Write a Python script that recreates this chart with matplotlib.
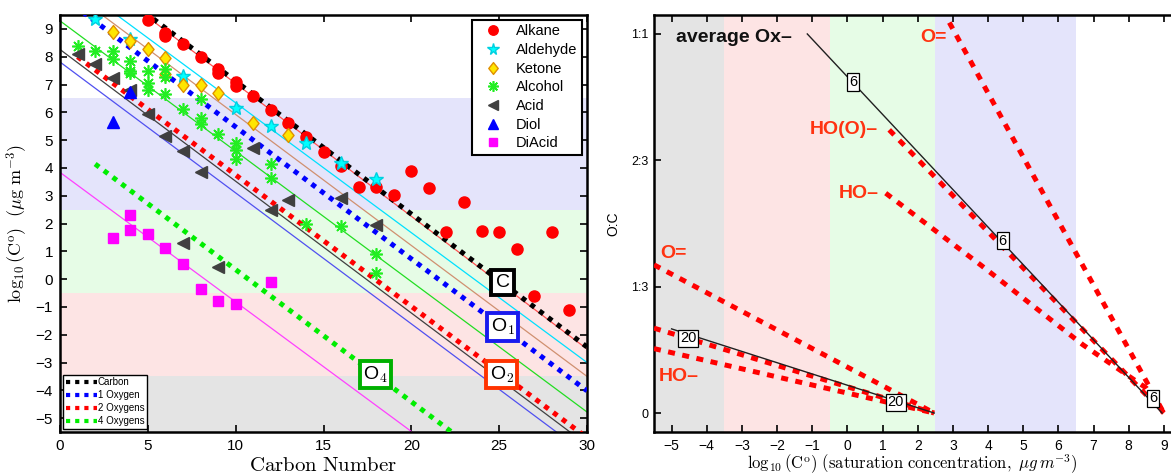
import matplotlib
matplotlib.use('Agg')
import matplotlib.pyplot as plt
import numpy as np
from matplotlib.path import Path

plt.rcParams['font.family'] = ['Liberation Sans', 'DejaVu Sans']
plt.rcParams['mathtext.fontset'] = 'cm'

# ---------------- Left panel data ----------------
alkane_c = [5, 6, 6, 7, 8, 9, 9, 10, 10, 11, 12, 13, 14, 15, 16, 17, 18, 19, 20, 21, 22, 23, 24, 25, 26, 27, 28, 29]
alkane_v = [9.33, 8.86, 8.75, 8.44, 8.0, 7.55, 7.42, 7.08, 6.94, 6.58, 6.1, 5.6, 5.11, 4.57, 4.06, 3.3, 3.3, 3.02,
            3.9, 3.27, 1.71, 2.76, 1.73, 1.69, 1.08, -0.62, 1.71, -1.12]
aldehyde_c = [2, 4, 7, 10, 12, 14, 16, 18]
aldehyde_v = [9.37, 8.62, 7.3, 6.14, 5.5, 4.9, 4.16, 3.6]
ketone_c = [3, 4, 5, 6, 6, 7, 8, 9, 11, 13]
ketone_v = [8.89, 8.58, 8.28, 7.94, 7.36, 7.0, 6.97, 6.71, 5.63, 5.18]
alcohol_c = [1, 2, 3, 3, 4, 4, 4, 5, 5, 5, 6, 6, 6, 7, 8, 8, 8, 9, 10, 10, 10, 12, 12, 14, 16, 18, 18]
alcohol_v = [8.38, 8.22, 8.22, 7.9, 7.84, 7.48, 7.4, 7.5, 7.06, 6.82, 7.54, 7.27, 6.67, 6.11, 6.47, 5.81, 5.57,
             5.21, 4.91, 4.64, 4.32, 4.14, 3.62, 1.98, 1.92, 0.91, 0.22]
acid_c = [1, 2, 3, 4, 5, 6, 7, 8, 11, 12, 13, 16, 18, 7, 9]
acid_v = [8.08, 7.75, 7.24, 6.79, 5.93, 5.15, 4.61, 3.87, 4.70, 2.49, 2.85, 2.91, 1.95, 1.29, 0.42]
diol_c = [3, 4]
diol_v = [5.65, 6.72]
diacid_c = [3, 4, 4, 5, 6, 7, 8, 9, 10, 12]
diacid_v = [1.47, 2.31, 1.77, 1.61, 1.11, 0.54, -0.36, -0.78, -0.91, -0.12]

# fit lines: (start carbon, end carbon, intercept, slope)
fit_alkane = (0, 30, 11.81, -0.4775)
fit_aldehyde = (0, 30, 11.01, -0.467)
fit_ketone = (0, 30, 10.63, -0.471)
fit_alcohol = (0, 30, 9.29, -0.469)
fit_acid = (0, 30, 8.26, -0.474)
fit_diol = (0, 30, 7.81, -0.471)
fit_diacid = (0, 30, 3.84, -0.466)
# group-contribution lines
grp_carbon = (0, 30, 11.9, -0.478)
grp_1oxygen = (0, 30, 10.22, -0.4746)
grp_2oxygens = (1, 30, 8.47, -0.4725)
grp_4oxygens = (2, 30, 5.09, -0.475)

# volatility bands
band_edges = [-5.5, -3.5, -0.5, 2.5, 6.5]
band_colors = ['#e4e4e4', '#fde4e4', '#e6fce6', '#e4e4fb']

# ---------------- Right panel data ----------------
avg_ox6_x = [-1.14, 8.95]
avg_ox6_y = [1.0, 0.0]
avg_ox20_x = [-5.0, 2.47]
avg_ox20_y = [0.222, 0.0]
oxo6_x = [2.9, 9.0]
oxo6_y = [1.03, 0.0]
acid6_x = [1.19, 9.0]
acid6_y = [0.747, 0.0]
hydroxy6_x = [1.09, 3.8, 6.7, 8.5, 9.0]
hydroxy6_y = [0.58, 0.39, 0.18, 0.066, 0.0]
oxo20_x = [-5.5, 2.47]
oxo20_y = [0.391, 0.0]
acid20_x = [-5.5, 2.47]
acid20_y = [0.224, 0.0]
hydroxy20_x = [-5.5, 2.47]
hydroxy20_y = [0.17, 0.0]
label6_x = [0.16, 4.42, 8.69]
label6_y = [0.873, 0.455, 0.039]
label20_x = [-4.53, 1.38]
label20_y = [0.197, 0.028]
oc_ticks = [0, 1/3, 2/3, 1]
oc_ticklabels = ['0', '1:3', '2:3', '1:1']

fig = plt.figure(figsize=(11.71, 4.75), dpi=100)
W, H = 1171, 475
ax1 = fig.add_axes([60 / W, 43 / H, 527 / W, 417 / H])
ax2 = fig.add_axes([654 / W, 43 / H, 517 / W, 417 / H])

# ---------------- Left panel ----------------
for lo, hi, col in zip(band_edges[:-1], band_edges[1:], band_colors):
    ax1.axhspan(lo, hi, color=col, lw=0, zorder=0)


def fline(ax, spec, **kw):
    x0, x1, a, b = spec
    xs = np.array([x0, x1], dtype=float)
    return ax.plot(xs, a + b * xs, **kw)


fline(ax1, fit_diacid, color='#ff40ff', lw=0.9, zorder=2)
fline(ax1, fit_diol, color='#5050f0', lw=0.9, zorder=2)
fline(ax1, fit_acid, color='#404040', lw=0.9, zorder=2)
fline(ax1, fit_alcohol, color='#22dd22', lw=0.9, zorder=2)
fline(ax1, fit_ketone, color='#d09070', lw=0.9, zorder=2)
fline(ax1, fit_aldehyde, color='#00e0ff', lw=0.9, zorder=2)
fline(ax1, fit_alkane, color='#ff5050', lw=0.9, zorder=2)

dot = (0, (1, 1.2))
l_c, = fline(ax1, grp_carbon, color='black', lw=3.6, ls=dot, zorder=3)
l_1, = fline(ax1, grp_1oxygen, color='#0000ff', lw=3.6, ls=dot, zorder=3)
l_2, = fline(ax1, grp_2oxygens, color='#ff0000', lw=3.6, ls=dot, zorder=3)
l_4, = fline(ax1, grp_4oxygens, color='#00ee00', lw=3.6, ls=dot, zorder=3)

diamond = Path([(0, 1), (0.8, 0), (0, -1), (-0.8, 0), (0, 1)],
               [Path.MOVETO, Path.LINETO, Path.LINETO, Path.LINETO, Path.CLOSEPOLY])

h_alk, = ax1.plot(alkane_c, alkane_v, 'o', color='#ff0000', ms=8, mec='#ff0000', ls='none', zorder=4, label='Alkane')
h_ald, = ax1.plot(aldehyde_c, aldehyde_v, '*', color='#00ffff', mec='#00d0e0', ms=10, ls='none', zorder=4, label='Aldehyde')
h_ket, = ax1.plot(ketone_c, ketone_v, marker=diamond, mfc='#ffe600', mec='#e09000', ms=10, ls='none', zorder=4, label='Ketone')
h_alc, = ax1.plot(alcohol_c, alcohol_v, marker=(8, 2, 0), color='#22ee22', ms=9, mew=1.2, ls='none', zorder=4, label='Alcohol')
h_acd, = ax1.plot(acid_c, acid_v, '<', color='#404040', ms=8, ls='none', zorder=4, label='Acid')
h_dio, = ax1.plot(diol_c, diol_v, '^', color='#0000ff', ms=8, ls='none', zorder=4, label='Diol')
h_dia, = ax1.plot(diacid_c, diacid_v, 's', color='#ff00ff', ms=6.5, ls='none', zorder=4, label='DiAcid')

ax1.set_xlim(0, 30)
ax1.set_ylim(-5.5, 9.5)
ax1.set_xticks(range(0, 31, 5))
ax1.set_yticks(range(-5, 10))
ax1.set_yticklabels([('\u2212%d' % -v) if v < 0 else str(v) for v in range(-5, 10)])
ax1.tick_params(direction='in', top=True, right=True, labelsize=11, length=5, width=1.2, pad=5)
for s in ax1.spines.values():
    s.set_linewidth(1.8)

ax1.set_xlabel(r'$\mathrm{Carbon\ Number}$', fontsize=15, labelpad=2)
ax1.set_ylabel(r'$\log_{10}(\mathrm{C}^{\mathrm{o}})\ \ (\mu\mathrm{g\ m}^{-3})$', fontsize=13, labelpad=4)

leg1 = ax1.legend(handles=[h_alk, h_ald, h_ket, h_alc, h_acd, h_dio, h_dia], loc='upper right',
                  fontsize=10.5, fancybox=False, edgecolor='black', framealpha=1, labelspacing=0.32,
                  borderaxespad=0.35, handletextpad=0.5, borderpad=0.3, handlelength=2.2, markerscale=0.85)
leg1.get_frame().set_linewidth(1.5)
ax1.add_artist(leg1)
leg2 = ax1.legend(handles=[l_c, l_1, l_2, l_4], labels=['Carbon', '1 Oxygen', '2 Oxygens', '4 Oxygens'],
                  loc='lower left', fontsize=7, fancybox=False, edgecolor='black', framealpha=1,
                  labelspacing=0.3, borderaxespad=0.3, handlelength=3.2, handletextpad=0.1, borderpad=0.3)
leg2.get_frame().set_linewidth(1.0)
for ln in leg2.get_lines():
    ln.set_linewidth(3.0)

box_kw = dict(ha='center', va='center', fontsize=14, zorder=6)
ax1.text(25.2, -0.13, 'C', bbox=dict(boxstyle='square,pad=0.22', fc='white', ec='black', lw=2.8), **box_kw)
ax1.text(25.2, -1.72, r'O$_\mathsf{1}$', bbox=dict(boxstyle='square,pad=0.18', fc='white', ec='#1a1aee', lw=2.8), **box_kw)
ax1.text(25.15, -3.43, r'O$_\mathsf{2}$', bbox=dict(boxstyle='square,pad=0.18', fc='white', ec='#ff3300', lw=2.8), **box_kw)
ax1.text(17.97, -3.43, r'O$_\mathsf{4}$', bbox=dict(boxstyle='square,pad=0.18', fc='white', ec='#00b000', lw=2.8), **box_kw)

# ---------------- Right panel ----------------
for lo, hi, col in zip(band_edges[:-1], band_edges[1:], band_colors):
    ax2.axvspan(lo, hi, color=col, lw=0, zorder=0)

red = '#ff0000'
rdot = (0, (1.4, 1.5))
ax2.plot(oxo6_x, oxo6_y, color=red, lw=3.6, ls=rdot, zorder=3)
ax2.plot(acid6_x, acid6_y, color=red, lw=3.6, ls=rdot, zorder=3)
ax2.plot(hydroxy6_x, hydroxy6_y, color=red, lw=3.6, ls=rdot, zorder=3)
ax2.plot(oxo20_x, oxo20_y, color=red, lw=3.6, ls=rdot, zorder=3)
ax2.plot(acid20_x, acid20_y, color=red, lw=3.6, ls=rdot, zorder=3)
ax2.plot(hydroxy20_x, hydroxy20_y, color=red, lw=3.6, ls=rdot, zorder=3)
ax2.plot(avg_ox6_x, avg_ox6_y, color='#202020', lw=1.0, zorder=4)
ax2.plot(avg_ox20_x, avg_ox20_y, color='#202020', lw=1.0, zorder=4)

lab_kw = dict(ha='center', va='center', fontsize=10.5, zorder=6,
              bbox=dict(boxstyle='square,pad=0.12', fc='white', ec='black', lw=0.9))
for x, y in zip(label6_x, label6_y):
    ax2.text(x, y, '6', **lab_kw)
for x, y in zip(label20_x, label20_y):
    ax2.text(x, y, '20', **lab_kw)

tcol = '#ff3311'
ax2.text(-4.88, 0.99, 'average Ox\u2013', fontsize=14, fontweight='bold', color='#111111', ha='left', va='center', zorder=6)
ax2.text(2.82, 0.991, 'O=', fontsize=14, color=tcol, ha='right', va='center', zorder=6, fontweight='bold')
ax2.text(0.86, 0.747, 'HO(O)\u2013', fontsize=14, color=tcol, ha='right', va='center', zorder=6, fontweight='bold')
ax2.text(0.88, 0.578, 'HO\u2013', fontsize=14, color=tcol, ha='right', va='center', zorder=6, fontweight='bold')
ax2.text(-5.32, 0.422, 'O=', fontsize=14, color=tcol, ha='left', va='center', zorder=6, fontweight='bold')
ax2.text(-5.37, 0.096, 'HO\u2013', fontsize=14, color=tcol, ha='left', va='center', zorder=6, fontweight='bold')

ax2.set_xlim(-5.5, -5.5 + 517 / 35.16)
ax2.set_ylim(-0.05, 1.05)
ax2.set_xticks(range(-5, 10))
ax2.set_xticklabels([('\u2212%d' % -v) if v < 0 else str(v) for v in range(-5, 10)])
ax2.set_yticks(oc_ticks)
ax2.set_yticklabels(oc_ticklabels)
ax2.tick_params(axis='x', direction='in', top=True, labelsize=10, length=5, width=1.2, pad=5)
ax2.tick_params(axis='y', direction='in', right=False, labelsize=9, length=5, width=1.2, pad=4)
for s in ax2.spines.values():
    s.set_linewidth(1.8)
ax2.spines['right'].set_visible(False)
ax2.set_ylabel('O:C', fontsize=10, labelpad=8)
ax2.set_xlabel(r'$\log_{10}(\mathrm{C}^{\mathrm{o}})\ (\mathrm{saturation\ concentration,}\ \mu g\,m^{-3})$',
               fontsize=12, labelpad=0)

fig.savefig('out.png', dpi=100)
